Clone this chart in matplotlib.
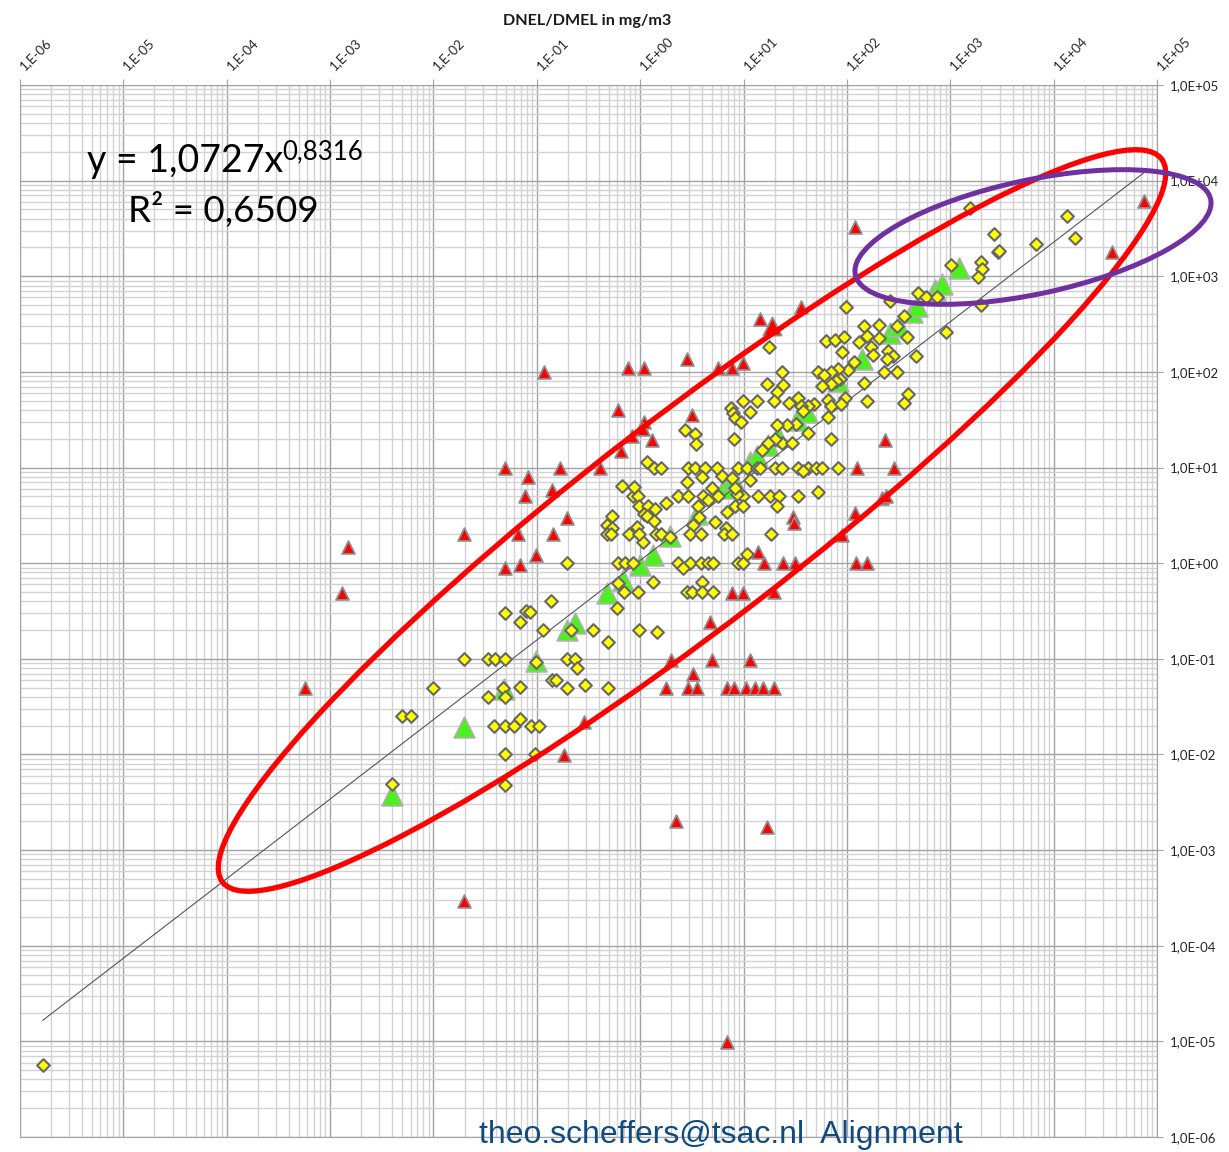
import numpy as np
import matplotlib
matplotlib.use("Agg")
import matplotlib.pyplot as plt
from matplotlib.patches import Ellipse
from matplotlib.ticker import LogLocator, NullFormatter
from matplotlib.transforms import ScaledTranslation

# all values are log10 of mg/m3
yellow_x = [3.19, 4.13, 3.42, 3.83, 4.21, 3.46, 3.47, 3.01, 3.30, 3.31, 3.27, 3.30, 2.96, 2.67, 2.59, 2.55,
            2.69, 2.77, 2.87, 2.42, 1.99, 2.17, 2.31, 2.19, 2.12, 1.80, 1.88, 1.97, 1.95, 2.31, 2.23, 2.25,
            2.40, 2.45, 2.39, 2.58, 2.48, 2.55, 2.07, 2.01, 1.91, 1.72, 1.85, 1.78, 1.93, 1.89, 1.85, 1.76,
            2.36, 2.48, 2.17, 1.37, 1.38, 1.98, 1.82, 2.19, 1.85, 1.94, 1.82, 1.68, 1.62, 1.53, 1.44, 1.56,
            1.58, 1.51, 1.42, 1.62, 1.85, 1.37, 1.47, 1.23, 1.32, 1.29, 0.99, 1.13, 0.88, 0.90, 0.92, 0.98,
            1.06, 1.25, 1.32, 0.43, 0.53, 0.54, 0.91, 1.30, 1.24, 1.18, 0.07,
            0.13, 0.20, 0.46, 0.53, 0.63, 0.74, 0.95, 1.03, 1.13, 1.16, 1.30, 1.37, 1.53, 1.62, 1.70, 1.76, 1.91, 1.58,
            0.79, 0.60, 0.45, 0.89, 1.06, 1.72,
            -0.07, -0.02, 0.37, 0.46, 0.61, 0.75, 0.99, 1.14, 1.26, 1.34, 1.53,
            0.94, 0.92, 0.69, 0.66, 0.25, -0.18, -0.06,
            -0.01, 0.08, 0.56, 0.92, 0.99, 1.32,
            0.14, 0.84, 0.51, 0.57, 0.72, 0.83, 0.04, 0.07, 0.13, -0.27, -0.32, -0.27, -0.03, 0.03,
            -0.32, -0.28, -0.11, -0.01, 0.15, 0.20, 0.48, 0.59, 0.81, 0.89, 1.27, 0.29,
            -0.71, -0.21, -0.15, -0.07, 0.37, 0.48, 0.59, 0.66, 0.70, 0.95, 0.99,
            0.41, 1.03, 0.12, 0.60,
            -0.16, -0.02, 0.45, 0.50, 0.60, 0.70,
            -0.21, -0.22, -1.31, -1.16, -1.10, -1.07, -0.86, -0.94, -0.67, -0.46, -0.31, -0.01, 0.16,
            -1.70, -1.47, -1.40, -1.31, -0.71, -0.63,
            -1.01, -0.61, -2.00, -1.33, -1.31, -1.47, -1.16, -0.85, -0.81, -0.71, -0.53, -0.31, -2.30, -2.22,
            -1.41, -1.31, -1.22, -1.06, -0.98,
            -1.16, -1.31, -1.02, -2.40, -1.31, -5.78]
yellow_y = [3.71, 3.63, 3.44, 3.34, 3.40, 3.25, 3.26, 3.12, 3.15, 3.08, 2.99, 2.70, 2.42, 2.17, 1.77, 1.68,
            2.82, 2.78, 2.78, 2.74, 2.68, 2.48, 2.49, 2.38, 2.31, 2.32, 2.33, 2.37, 2.21, 2.35, 2.26, 2.18,
            2.22, 2.17, 2.13, 2.37, 2.48, 2.58, 2.10, 2.02, 2.03, 2.00, 2.00, 1.97, 1.93, 1.90, 1.87, 1.85,
            2.00, 2.00, 1.88, 2.00, 1.86, 1.73, 1.71, 1.70, 1.64, 1.66, 1.53, 1.66, 1.64, 1.73, 1.67, 1.64,
            1.59, 1.46, 1.45, 1.36, 1.30, 1.26, 1.26, 1.87, 1.79, 1.70, 1.70, 1.70, 1.62, 1.57, 1.52, 1.48,
            1.58, 2.26, 1.45, 1.39, 1.35, 1.25, 1.30, 1.30, 1.26, 1.18, 1.06,
            1.00, 1.00, 1.00, 1.00, 1.00, 1.00, 1.00, 1.00, 1.00, 1.00, 1.00, 1.00, 1.00, 1.00, 1.00, 1.00, 1.00, 0.96,
            0.91, 0.90, 0.85, 0.89, 0.87, 0.74,
            0.70, 0.70, 0.70, 0.70, 0.70, 0.70, 0.70, 0.70, 0.70, 0.70, 0.70,
            0.72, 0.79, 0.79, 0.66, 0.63, 0.81, 0.80,
            0.60, 0.60, 0.60, 0.60, 0.60, 0.60,
            0.57, 0.54, 0.40, 0.48, 0.43, 0.37, 0.51, 0.49, 0.44, 0.49, 0.40, 0.37, 0.38, 0.22,
            0.30, 0.30, 0.30, 0.30, 0.30, 0.30, 0.30, 0.30, 0.30, 0.30, 0.30, 0.27,
            0.00, 0.00, 0.00, 0.00, 0.00, 0.00, 0.00, 0.00, 0.00, 0.00, 0.00,
            -0.05, 0.10, -0.20, -0.20,
            -0.30, -0.30, -0.30, -0.30, -0.30, -0.30,
            -0.21, -0.47, -0.52, -0.62, -0.50, -0.51, -0.40, -0.70, -0.70, -0.70, -0.82, -0.70, -0.72,
            -1.00, -1.00, -1.00, -1.00, -1.00, -1.00,
            -1.03, -1.10, -1.30, -1.30, -1.40, -1.40, -1.29, -1.22, -1.22, -1.30, -1.27, -1.30, -1.60, -1.60,
            -1.70, -1.70, -1.70, -1.70, -1.70,
            -1.63, -2.00, -2.00, -2.31, -2.32, -5.25]

red_x = [2.08, 4.87, 4.56, 1.56, 1.16, 0.45, -0.12, 0.04, -0.93, 0.75, 0.89, 0.99, -0.21, 0.50, 0.04, 0.03,
         -0.08, 0.11, -0.19, -1.31, -0.78, -0.39, -1.09, -1.11, -0.85, -0.71, -1.70, -1.18, -0.84, -1.01,
         -1.31, -1.16, -2.83, -2.88, -3.24, -1.70, 0.35, 1.23, 0.84, -0.74, -0.54, 0.25, 0.30, 0.46, 0.55,
         0.51, 0.69, 0.68, 1.06, 0.84, 0.91, 1.02, 1.11, 1.19, 1.29, 0.89, 0.99, 1.29, 1.14, 1.20, 1.38,
         1.50, 1.95, 2.09, 2.19, 2.08, 1.48, 1.49, 2.34, 2.38, 2.10, 2.46, 2.37]
red_y = [3.51, 3.79, 3.25, 2.68, 2.55, 2.13, 2.04, 2.04, 2.00, 2.04, 2.04, 2.09, 1.60, 1.55, 1.48, 1.40,
         1.33, 1.29, 1.17, 1.00, 1.00, 1.00, 0.90, 0.70, 0.77, 0.47, 0.30, 0.30, 0.30, 0.09,
         -0.05, -0.02, 0.17, -0.31, -1.31, -3.53, -2.70, -2.76, -5.01, -2.01, -1.66, -1.31, -1.01, -1.31, -1.31,
         -1.16, -1.01, -0.61, -1.01, -1.31, -1.31, -1.31, -1.31, -1.31, -1.31, -0.31, -0.31, -0.30, 0.12, 0.00, 0.00,
         0.00, 0.29, 0.00, 0.00, 0.52, 0.48, 0.42, 0.68, 0.70, 1.00, 1.00, 1.29]
red_big_x = [1.28]
red_big_y = [2.48]

green_x = [-2.40, -1.70, -1.32, -1.01, -0.71, -0.63, -0.32, -0.17, 0.00, 0.12, 0.29, 0.55, 0.81, 0.90, 1.06,
           1.13, 1.24, 1.33, 1.52, 1.61, 1.91, 2.15, 2.42, 2.50, 2.63, 2.68, 2.85, 2.92, 3.08]
green_y = [-2.42, -1.71, -1.32, -1.02, -0.70, -0.63, -0.31, -0.18, -0.02, 0.09, 0.28, 0.51, 0.79, 0.88, 1.06,
           1.12, 1.24, 1.33, 1.50, 1.58, 1.91, 2.13, 2.41, 2.48, 2.63, 2.69, 2.86, 2.92, 3.09]

trend_x = [-5.78, 4.87]
trend_y = [-4.78, 4.08]

x_labels = ['1,E-06', '1,E-05', '1,E-04', '1,E-03', '1,E-02', '1,E-01', '1,E+00', '1,E+01', '1,E+02', '1,E+03', '1,E+04', '1,E+05']
y_labels = ['1,0E-06', '1,0E-05', '1,0E-04', '1,0E-03', '1,0E-02', '1,0E-01', '1,0E+00', '1,0E+01', '1,0E+02', '1,0E+03', '1,0E+04', '1,0E+05']
decades = 10.0 ** np.arange(-6, 6)

plt.rcParams['font.family'] = ['Lato', 'DejaVu Sans']

W, H = 1229, 1152
fig = plt.figure(figsize=(W / 100, H / 100), dpi=100)
ax = fig.add_axes([20 / W, 1 - 1137 / H, (1157 - 20) / W, (1137 - 85) / H])
ax.set_xscale('log')
ax.set_yscale('log')
ax.set_xlim(1e-6, 1e5)
ax.set_ylim(1e-6, 1e5)

# Grid
ax.set_axisbelow(True)
ax.xaxis.set_major_locator(LogLocator(base=10, numticks=20))
ax.yaxis.set_major_locator(LogLocator(base=10, numticks=20))
ax.xaxis.set_minor_locator(LogLocator(base=10, subs=np.arange(2, 10), numticks=20))
ax.yaxis.set_minor_locator(LogLocator(base=10, subs=np.arange(2, 10), numticks=20))
ax.xaxis.set_minor_formatter(NullFormatter())
ax.yaxis.set_minor_formatter(NullFormatter())
ax.grid(which='minor', color='#d2d2d2', linewidth=1.0)
ax.grid(which='major', color='#a3a3a3', linewidth=1.0)
for s in ax.spines.values():
    s.set_color('#a3a3a3')

# Axis ticks
ax.xaxis.tick_top()
ax.yaxis.tick_right()
ax.set_xticks(decades, x_labels)
ax.set_yticks(decades, y_labels)
ax.tick_params(which='minor', length=0)
ax.tick_params(which='major', length=4, color='#a3a3a3', labelsize=9.5, labelcolor='#262626')
ax.tick_params(axis='y', pad=5.5)
ax.tick_params(axis='x', pad=3)
shift = ScaledTranslation(6 / 100, 3 / 100, fig.dpi_scale_trans)
for t in ax.get_xticklabels():
    t.set_rotation(45)
    t.set_rotation_mode('anchor')
    t.set_ha('left')
    t.set_va('bottom')
    t.set_transform(t.get_transform() + shift)

# Points
ax.scatter(10.0 ** np.array(green_x), 10.0 ** np.array(green_y), marker='^', s=225, color='#4df01f',
           edgecolors='#b0b0b0', linewidths=1.2, zorder=3)
ax.plot(10.0 ** np.array(trend_x), 10.0 ** np.array(trend_y), color='#555555', linewidth=0.8, zorder=4)
ax.scatter(10.0 ** np.array(red_x), 10.0 ** np.array(red_y), marker='^', s=85, color='#ff0000',
           edgecolors='#8c8c8c', linewidths=1.3, zorder=5)
ax.scatter(10.0 ** np.array(red_big_x), 10.0 ** np.array(red_big_y), marker='^', s=170, color='#ff0000',
           edgecolors='#8c8c8c', linewidths=1.3, zorder=5)
ax.scatter(10.0 ** np.array(yellow_x), 10.0 ** np.array(yellow_y), marker='D', s=42, color='#ffff00',
           edgecolors='#666666', linewidths=1.5, zorder=6)

# Hand drawn ellipses and text sit on top, placed in picture pixels
over = fig.add_axes([0, 0, 1, 1])
over.set_xlim(0, W)
over.set_ylim(H, 0)
over.axis('off')
over.patch.set_alpha(0)
over.add_patch(Ellipse((692, 520.5), 2 * 592.6, 2 * 103.8, angle=-37.6, fill=False, edgecolor='#ff0000', linewidth=3.8, zorder=7))
over.add_patch(Ellipse((1033, 237), 2 * 181.6, 2 * 57, angle=-12, fill=False, edgecolor='#7030a0', linewidth=3.6, zorder=8))

over.text(587, 21, 'DNEL/DMEL in mg/m3', fontsize=11.6, fontweight='bold', ha='center', va='center', color='#1a1a1a')
over.text(87, 172, 'y = 1,0727x', fontsize=27, ha='left', va='baseline', color='black')
over.text(282, 159, '0,8316', fontsize=18.5, ha='left', va='baseline', color='black')
over.text(128, 222, 'R² = 0,6509', fontsize=26.5, ha='left', va='baseline', color='black')
over.text(479, 1143, 'theo.scheffers@tsac.nl  Alignment', fontsize=23, family='Liberation Sans', ha='left',
          va='baseline', color='#0f4a82')

fig.savefig('out.png', dpi=100)
